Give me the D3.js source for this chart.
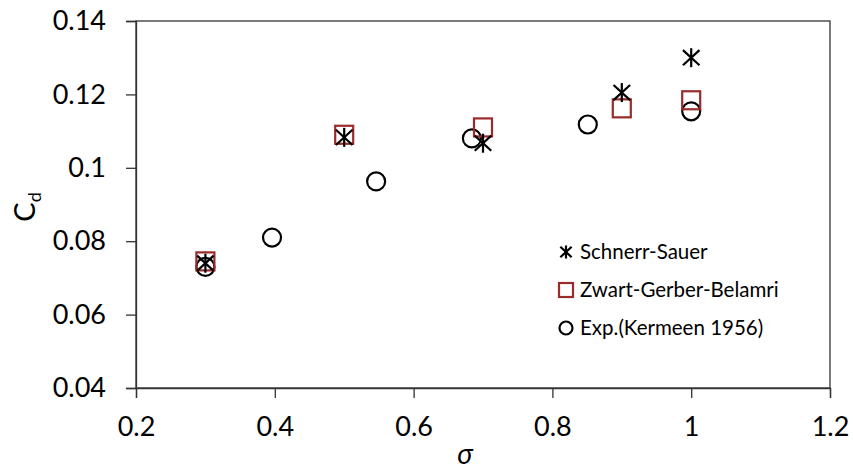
<!DOCTYPE html>
<html>
<head>
<meta charset="utf-8">
<script src="https://cdn.jsdelivr.net/npm/d3@7"></script>
<style>
  body { margin: 0; background: #fff; }
  text { font-family: Lato, "Open Sans", sans-serif; fill: #000; }
</style>
</head>
<body>
<svg id="chart" width="853" height="474"></svg>
<script>
// data
var schnerrX = [0.3, 0.5, 0.7, 0.9, 1.0];
var schnerrY = [0.0740, 0.1083, 0.1067, 0.1205, 0.1300];
var zwartX = [0.3, 0.5, 0.7, 0.9, 1.0];
var zwartY = [0.0745, 0.1090, 0.1110, 0.1162, 0.1184];
var expX = [0.3, 0.396, 0.546, 0.684, 0.851, 1.0];
var expY = [0.0730, 0.0810, 0.0963, 0.1080, 0.1118, 0.1154];
var xTicks = [0.2, 0.4, 0.6, 0.8, 1, 1.2];
var yTicks = [0.04, 0.06, 0.08, 0.1, 0.12, 0.14];
var legendLabels = ["Schnerr-Sauer", "Zwart-Gerber-Belamri", "Exp.(Kermeen 1956)"];

var svg = d3.select("#chart");
var m = { left: 136, right: 830, top: 21, bottom: 388 };

var x = d3.scaleLinear().domain([0.2, 1.2]).range([m.left, m.right]);
var y = d3.scaleLinear().domain([0.04, 0.14]).range([m.bottom, m.top]);

// frame
svg.append("rect")
    .attr("x", m.left).attr("y", m.top)
    .attr("width", m.right - m.left).attr("height", m.bottom - m.top)
    .attr("fill", "none").attr("stroke", "#333").attr("stroke-width", 1.3);

var xAxis = d3.axisBottom(x).tickValues(xTicks).tickSize(10).tickPadding(19)
    .tickFormat(d3.format("~g"));
var yAxis = d3.axisLeft(y).tickValues(yTicks).tickSize(10).tickPadding(20)
    .tickFormat(d3.format("~g"));

var gx = svg.append("g").attr("transform", `translate(0,${m.bottom})`).call(xAxis);
var gy = svg.append("g").attr("transform", `translate(${m.left},0)`).call(yAxis);
[gx, gy].forEach(g => {
    g.select(".domain").attr("stroke", "#333").attr("stroke-width", 1.3);
    g.selectAll(".tick line").attr("stroke", "#333").attr("stroke-width", 1.3);
    g.selectAll(".tick text").attr("font-size", 27).attr("font-family", "Lato, sans-serif").attr("fill", "#000");
});

// axis titles
svg.append("text")
    .attr("x", 465).attr("y", 464)
    .attr("text-anchor", "middle")
    .attr("font-size", 28).attr("font-style", "italic")
    .attr("font-family", "DejaVu Serif, serif")
    .text("σ");

var yl = svg.append("text")
    .attr("transform", "translate(35,207) rotate(-90)")
    .attr("text-anchor", "middle")
    .attr("font-size", 29);
yl.append("tspan").text("C");
yl.append("tspan").attr("font-size", 18).attr("dy", 6).text("d");

// marker drawers
function star(g, cx, cy, s) {
    var p = g.append("g").attr("stroke", "#000").attr("stroke-width", 2.2);
    p.append("line").attr("x1", cx).attr("x2", cx).attr("y1", cy - s).attr("y2", cy + s);
    p.append("line").attr("x1", cx - s * 0.87).attr("x2", cx + s * 0.87).attr("y1", cy - s * 0.8).attr("y2", cy + s * 0.8);
    p.append("line").attr("x1", cx - s * 0.87).attr("x2", cx + s * 0.87).attr("y1", cy + s * 0.8).attr("y2", cy - s * 0.8);
}
function square(g, cx, cy, s) {
    g.append("rect").attr("x", cx - s).attr("y", cy - s)
        .attr("width", 2 * s).attr("height", 2 * s)
        .attr("fill", "none").attr("stroke", "#9b2a2a").attr("stroke-width", 2.2);
}
function circle(g, cx, cy, r) {
    g.append("circle").attr("cx", cx).attr("cy", cy).attr("r", r)
        .attr("fill", "none").attr("stroke", "#000").attr("stroke-width", 2.2);
}

var marks = svg.append("g");
expX.forEach((v, i) => circle(marks, x(v), y(expY[i]), 9));
zwartX.forEach((v, i) => square(marks, x(v), y(zwartY[i]), 9));
schnerrX.forEach((v, i) => star(marks, x(v), y(schnerrY[i]), 9.5));

// legend
var lg = svg.append("g");
var ly = [252, 290, 328];
star(lg, 566, ly[0], 6.5);
square(lg, 566, ly[1], 7);
circle(lg, 566, ly[2], 6.5);
legendLabels.forEach((t, i) => {
    lg.append("text").attr("x", 580).attr("y", ly[i]).attr("dy", "0.35em")
        .attr("font-size", 20.5).text(t);
});
</script>
</body>
</html>
